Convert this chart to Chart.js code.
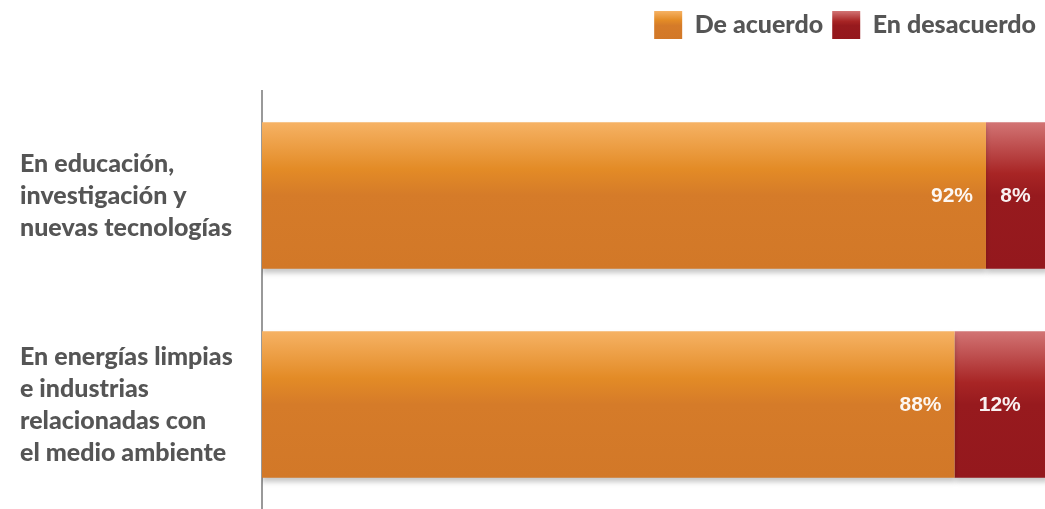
<!DOCTYPE html>
<html>
<head>
<meta charset="utf-8">
<script src="https://cdn.jsdelivr.net/npm/chart.js@4/dist/chart.umd.min.js"></script>
<style>
  html, body { margin: 0; padding: 0; background: #fff; }
  #wrap { width: 1045px; height: 509px; }
</style>
</head>
<body>
<div id="wrap"><canvas id="barChart"></canvas></div>
<script>
const categories = [
  ["En educación,", "investigación y", "nuevas tecnologías"],
  ["En energías limpias", "e industrias", "relacionadas con", "el medio ambiente"]
];
const seriesNames = ["De acuerdo", "En desacuerdo"];
const deAcuerdo = [92, 88];
const enDesacuerdo = [8, 12];

const orangeStops = [[0, '#f6b264'], [0.32, '#e38b26'], [0.5, '#d57b29'], [1, '#d27828']];
const redStops = [[0, '#d27474'], [0.35, '#a82525'], [0.5, '#971a1e'], [1, '#94181d']];

function makeGradient(ctx, top, bottom, stops) {
  const g = ctx.createLinearGradient(0, top, 0, bottom);
  stops.forEach(s => g.addColorStop(s[0], s[1]));
  return g;
}

// gradient per bar, based on the bar's band on the y scale
function barFill(stops, fallback) {
  return function (context) {
    const chart = context.chart;
    const area = chart.chartArea;
    if (!area || context.dataIndex === undefined) return fallback;
    const y = chart.scales.y;
    const center = y.getPixelForValue(context.dataIndex);
    const half = (area.bottom - area.top) / categories.length * 0.7 / 2;
    return makeGradient(chart.ctx, center - half, center + half, stops);
  };
}

const barShadow = {
  id: 'barShadow',
  beforeDatasetsDraw(chart) {
    const ctx = chart.ctx;
    ctx.save();
    ctx.shadowColor = 'rgba(0,0,0,0.22)';
    ctx.shadowBlur = 5;
    ctx.shadowOffsetY = 4;
  },
  afterDatasetsDraw(chart) {
    chart.ctx.restore();
  }
};

const valueLabels = {
  id: 'valueLabels',
  afterDatasetsDraw(chart) {
    const ctx = chart.ctx;
    ctx.save();
    ctx.font = 'bold 21px "Liberation Sans", Arial, sans-serif';
    ctx.fillStyle = 'rgba(255,255,255,0.94)';
    ctx.textBaseline = 'middle';
    chart.data.datasets.forEach((ds, di) => {
      const meta = chart.getDatasetMeta(di);
      meta.data.forEach((bar, i) => {
        const text = ds.data[i] + '%';
        if (di === 0) {
          ctx.textAlign = 'right';
          ctx.fillText(text, bar.x - 13, bar.y + 1);
        } else {
          const right = Math.min(bar.x, chart.chartArea.right);
          ctx.textAlign = 'center';
          ctx.fillText(text, (bar.base + right) / 2, bar.y + 1);
        }
      });
    });
    ctx.restore();
  }
};

const legendSpace = {
  id: 'legendSpace',
  beforeInit(chart) {
    const fit = chart.legend.fit;
    chart.legend.fit = function () {
      fit.bind(chart.legend)();
      this.height += 42;
    };
  }
};

const ctxBarChart = document.getElementById('barChart').getContext('2d');

const barChart = new Chart(ctxBarChart, {
  type: 'bar',
  data: {
    labels: categories,
    datasets: [{
      label: seriesNames[0],
      data: deAcuerdo,
      backgroundColor: barFill(orangeStops, '#d97f28'),
      categoryPercentage: 0.7,
      barPercentage: 1
    }, {
      label: seriesNames[1],
      data: enDesacuerdo,
      backgroundColor: barFill(redStops, '#9b1c20'),
      categoryPercentage: 0.7,
      barPercentage: 1
    }]
  },
  options: {
    indexAxis: 'y',
    responsive: true,
    maintainAspectRatio: false,
    animation: false,
    layout: { padding: { top: 2, left: 20, right: 0, bottom: 0 } },
    plugins: {
      tooltip: { enabled: false },
      legend: {
        position: 'top',
        align: 'end',
        labels: {
          boxWidth: 28,
          boxHeight: 28,
          padding: 9,
          color: '#555555',
          font: { family: 'Lato, "Open Sans", sans-serif', size: 25, weight: '900' },
          generateLabels(chart) {
            const items = Chart.defaults.plugins.legend.labels.generateLabels(chart);
            const top = 11, bottom = 40;
            items.forEach((item, i) => {
              item.fillStyle = makeGradient(chart.ctx, top, bottom, i === 0 ? orangeStops : redStops);
              item.lineWidth = 0;
              item.strokeStyle = 'rgba(0,0,0,0)';
            });
            return items;
          }
        }
      }
    },
    scales: {
      x: {
        stacked: true,
        display: false,
        min: 0,
        max: 99.5
      },
      y: {
        stacked: true,
        grid: { display: false, drawTicks: false },
        border: { display: true, color: '#999999', width: 2 },
        afterFit(scale) {
          scale.width = 242;
          scale.paddingTop = 0;
          scale.paddingBottom = 0;
        },
        ticks: {
          crossAlign: 'far',
          color: '#555555',
          font: { family: 'Lato, "Open Sans", sans-serif', size: 25, weight: '900', lineHeight: 1.28 }
        }
      }
    }
  },
  plugins: [barShadow, valueLabels, legendSpace]
});
</script>
</body>
</html>
